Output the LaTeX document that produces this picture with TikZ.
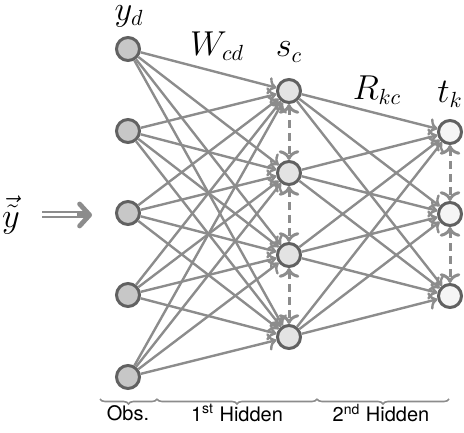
\documentclass[tikz,border=0pt]{standalone}
\usepackage{fontspec}
\setsansfont{TeX Gyre Heros}
\usetikzlibrary{arrows.meta,decorations.pathreplacing}

\tikzset{
  unit/.style={circle,draw=black!62,line width=1.5pt,minimum size=11.5pt,inner sep=0pt},
  obs/.style={unit,fill=black!22},
  hid/.style={unit,fill=black!11},
  outp/.style={unit,fill=black!4},
  wire/.style={->,draw=black!45,line width=1.2pt},
  lateral/.style={<->,draw=black!45,line width=1.5pt,dash pattern=on 4pt off 2.5pt},
  layer/.style={draw=black!45,line width=0.8pt,decorate,decoration={brace,mirror,amplitude=2.5pt}},
  feed/.style={draw=black!45,line width=1pt,double,double distance=1.5pt,shorten <=10pt,shorten >=3pt},
  feedhead/.style={draw=black!45,line width=2.4pt,shorten <=27.5pt,
    -{Straight Barb[length=5pt,width=11pt,round]}},
  mlabel/.style={font=\fontsize{16}{18}\selectfont,inner sep=1pt},
  txt/.style={font=\sffamily},
}

\begin{document}
\begin{tikzpicture}[x=0.5pt,y=-0.5pt]
    \useasboundingbox (0,0) rectangle (464,432);
    % units of the three layers
    \foreach \i/\y in {1/49,2/131,3/213,4/295,5/377}
        \node[obs] (y\i) at (128,\y) {};
    \foreach \i/\y in {1/91,2/173,3/255,4/337}
        \node[hid] (s\i) at (289,\y) {};
    \foreach \i/\y in {1/132,2/214,3/296}
        \node[outp] (t\i) at (450,\y) {};
    % weights
    \foreach \i in {1,...,5}
        \foreach \j in {1,...,4}
            \draw[wire] (y\i) -- (s\j);
    \foreach \j in {1,...,4}
        \foreach \k in {1,2,3}
            \draw[wire] (s\j) -- (t\k);
    % lateral links
    \draw[lateral] (s1) -- (s2);
    \draw[lateral] (s2) -- (s3);
    \draw[lateral] (s3) -- (s4);
    \draw[lateral] (t1) -- (t2);
    \draw[lateral] (t2) -- (t3);
    % labels
    \node[mlabel] (yd) at (129,16) {$y_d$};
    \node[mlabel] (Wcd) at (217,46) {$W_{cd}$};
    \node[mlabel] (sc) at (289,52) {$s_c$};
    \node[mlabel] (Rkc) at (377,90) {$R_{kc}$};
    \node[mlabel] (tk) at (450,94) {$t_k$};
    % input
    \node[mlabel] (ytil) at (11,215) {$\vec{\tilde{y}}$};
    \coordinate (yin) at (92,215);
    \draw[feed] (ytil) -- (yin);
    \draw[feedhead] (ytil) -- (yin);
    % layer braces
    \coordinate (b0) at (100,399);
    \coordinate (b1) at (157,399);
    \coordinate (b2) at (317,399);
    \coordinate (b3) at (449,399);
    \draw[layer] (b0) -- (b1);
    \draw[layer] (b1) -- (b2);
    \draw[layer] (b2) -- (b3);
    \node[txt] (obsl) at (128,413) {Obs.};
    \node[txt] (hid1) at (237,413) {1\textsuperscript{st} Hidden};
    \node[txt] (hid2) at (381,413) {2\textsuperscript{nd} Hidden};
\end{tikzpicture}
\end{document}
